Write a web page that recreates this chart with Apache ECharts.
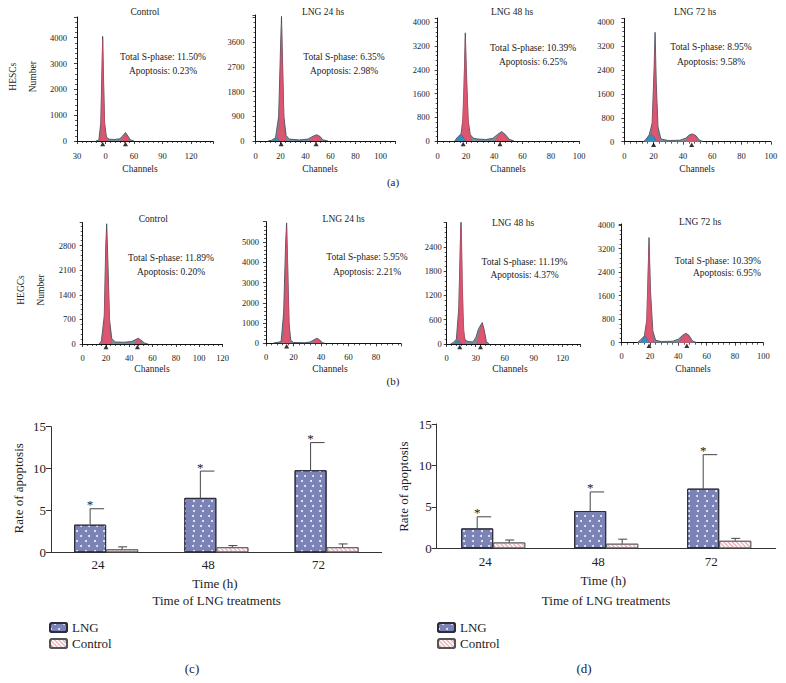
<!DOCTYPE html>
<html><head><meta charset="utf-8">
<script src="https://cdn.jsdelivr.net/npm/echarts@6/dist/echarts.min.js"></script>
<style>html,body{margin:0;padding:0;background:#fff}#c{width:786px;height:683px}</style>
</head><body><div id="c"></div>
<script>
// ---------------- DATA ----------------
// Histogram panels: [channel, count]
const a1Env = [[20,0],[23,40],[25,700],[26.3,2900],[27,4050],[27.8,2600],[29,700],[31,150],[34,70],[40,60],[45,90],[48,190],[51,330],[53.5,190],[56,50],[60,0]];
const a1G1  = [[23.5,0],[25,350],[26.4,2700],[27,3900],[27.8,2300],[29.3,450],[31,80],[33,0]];
const a1G2  = [[46,0],[48.5,140],[51,290],[53,160],[55.5,0]];
const a1Mk  = [[27,0],[51,0]];

const a2Env = [[10,0],[13,30],[16,120],[18.5,900],[20,3400],[20.8,4550],[21.6,3000],[22.7,900],[24.5,200],[27,70],[35,40],[42,70],[45,150],[48.8,230],[51.5,170],[54,40],[58,0]];
const a2G1  = [[17,0],[18.7,500],[20.1,2900],[20.8,4300],[21.6,2600],[23,400],[24.5,0]];
const a2G2  = [[43.4,0],[46,130],[48.8,210],[51,140],[53,0]];
const a2Apo = [[14,0],[16,70],[17.5,110],[19,0]];
const a2Mk  = [[20.5,0],[48.5,0]];

const a3Env = [[12,0],[14,130],[16.5,240],[18,800],[19,2600],[19.5,3650],[20.2,2500],[21.5,700],[23,220],[25,100],[28,70],[34,50],[39,90],[42.5,230],[45.2,320],[47.8,220],[50.5,60],[54,0]];
const a3G1  = [[15.5,0],[17.2,350],[18.6,1900],[19.5,3450],[20.4,1900],[22,400],[24,0]];
const a3G2  = [[40.5,0],[43,190],[45.2,290],[47.5,200],[50.5,0]];
const a3Apo = [[13,0],[15,130],[16.5,225],[18,130],[19.5,0]];
const a3Mk  = [[18,0],[44,0]];

const a4Env = [[13,0],[15,90],[17,230],[19,620],[20.3,2400],[21,3660],[21.8,2000],[23,500],[25,90],[30,40],[38,50],[42,120],[44.5,230],[46.5,260],[49,200],[51,60],[54,0]];
const a4G1  = [[17,0],[19,420],[20.3,2000],[21,3100],[21.8,1500],[23,300],[24.2,0]];
const a4G2  = [[41.4,0],[44,160],[46.4,240],[48.5,180],[50.5,0]];
const a4Apo = [[14.5,0],[16.5,160],[18.7,250],[20.5,150],[22,0]];
const a4Mk  = [[20,0],[46,0]];

const b1Env = [[14,0],[16,80],[18.5,800],[19.8,2800],[20.6,3420],[21.5,2500],[23,700],[25,150],[28,60],[35,50],[42,70],[45,120],[47.7,165],[50,110],[53,30],[56,0]];
const b1G1  = [[16.3,0],[18.5,600],[20,2700],[20.6,3200],[21.5,2100],[23.5,300],[25,0]];
const b1G2  = [[44.5,0],[46.5,120],[47.7,150],[49,110],[51,0]];
const b1Mk  = [[20,0],[47,0]];

const b2Env = [[5,0],[7,40],[9,50],[11,100],[12.8,1500],[14.3,5000],[15,5940],[15.7,4000],[16.8,1000],[18,150],[20,40],[28,30],[32,60],[35,180],[37,250],[39,170],[41,30],[43,0]];
const b2G1  = [[11.9,0],[13.3,1200],[14.5,4800],[15,5700],[15.6,4300],[16.6,1200],[17.6,0]];
const b2G2  = [[34,0],[35.5,150],[37,230],[38.5,150],[40,0]];
const b2Mk  = [[15,0]];

const b3Env = [[4,0],[7,40],[10,120],[12.5,900],[14.8,3150],[16,1500],[17.5,300],[19,100],[22,60],[27,50],[30,150],[33,380],[36.8,530],[39,330],[41,60],[44,0]];
const b3G1  = [[10.5,0],[12.5,700],[14.5,2900],[15.2,2800],[17,600],[19,0]];
const b3G2  = [[31,0],[33.5,280],[36.8,500],[38.5,330],[40.6,0]];
const b3Apo = [[7.5,0],[10,60],[12,80],[14,40],[15.5,0]];
const b3Mk  = [[13.5,0],[35,0]];

const b4Env = [[11,0],[13,80],[16,230],[17.8,800],[19.3,3580],[20.3,1800],[22,400],[24,80],[28,40],[36,50],[40,120],[43,250],[45.4,320],[47.5,250],[50,60],[53,0]];
const b4G1  = [[15.3,0],[17.5,600],[19.3,3300],[20.3,1500],[21.8,300],[23,0]];
const b4G2  = [[40,0],[43,200],[45.4,300],[47.5,200],[49.5,0]];
const b4Apo = [[13.5,0],[15.5,170],[16.5,228],[18,120],[19.5,0]];
const b4Mk  = [[19.3,0],[46,0]];

// Tick labels
const xTicksA1 = ['30','0','60','90','120'];
const xTicks100 = ['0','20','40','60','80','100'];
const xTicks120 = ['0','20','40','60','80','100','120'];
const xTicks80 = ['0','20','40','60','80'];
const xTicks30 = ['0','30','60','90','120'];
const yTicksA1 = ['0','1000','2000','3000','4000'];
const yTicksA2 = ['0','900','1800','2700','3600'];
const yTicks800 = ['0','800','1600','2400','3200','4000'];
const yTicksB1 = ['0','700','1400','2100','2800'];
const yTicksB2 = ['0','1000','2000','3000','4000','5000'];
const yTicksB3 = ['0','600','1200','1800','2400'];

const titles = ['Control','LNG 24 hs','LNG 48 hs','LNG 72 hs','Control','LNG 24 hs','LNG 48 hs','LNG 72 hs'];
const statsS = ['11.50%','6.35%','10.39%','8.95%','11.89%','5.95%','11.19%','10.39%'];
const statsA = ['0.23%','2.98%','6.25%','9.58%','0.20%','2.21%','4.37%','6.95%'];

// Bar charts
const timeCats = ['24','48','72'];
const cLNG = [3.3, 6.5, 9.8];   const cLNGsd = [1.9, 3.2, 3.3];
const cCtrl = [0.35, 0.6, 0.6]; const cCtrlsd = [0.3, 0.2, 0.4];
const dLNG = [2.4, 4.5, 7.2];   const dLNGsd = [1.4, 2.3, 4.1];
const dCtrl = [0.7, 0.55, 0.9]; const dCtrlsd = [0.3, 0.55, 0.3];

// ---------------- LAYOUT / STYLE ----------------
const FONT = '"Liberation Serif","Times New Roman","DejaVu Serif",serif';
const INK = '#222';
const panels = [
  {env:a1Env,g1:a1G1,g2:a1G2,apo:null, mk:a1Mk,xt:xTicksA1,xi:30,xMax:143,yt:yTicksA1,yi:1000,yMax:4800,L:77,T:17,W:136,H:124,ym:10,xm:10,xs:6},
  {env:a2Env,g1:a2G1,g2:a2G2,apo:a2Apo,mk:a2Mk,xt:xTicks100,xi:20,xMax:112,yt:yTicksA2,yi:900,yMax:4600,L:255.5,T:15,W:140,H:126,ym:11,xm:10,xs:5},
  {env:a3Env,g1:a3G1,g2:a3G2,apo:a3Apo,mk:a3Mk,xt:xTicks100,xi:20,xMax:100,yt:yTicks800,yi:800,yMax:4150,L:437.7,T:18,W:141.5,H:123,ym:8,xm:10,xs:5},
  {env:a4Env,g1:a4G1,g2:a4G2,apo:a4Apo,mk:a4Mk,xt:xTicks100,xi:20,xMax:100,yt:yTicks800,yi:800,yMax:4130,L:624.3,T:18.3,W:146.5,H:123.4,ym:10,xm:10,xs:5},
  {env:b1Env,g1:b1G1,g2:b1G2,apo:null, mk:b1Mk,xt:xTicks120,xi:20,xMax:120,yt:yTicksB1,yi:700,yMax:3450,L:82.7,T:222.7,W:139.8,H:121.3,ym:7,xm:9,xs:5},
  {env:b2Env,g1:b2G1,g2:b2G2,apo:null, mk:b2Mk,xt:xTicks80,xi:20,xMax:98,yt:yTicksB2,yi:1000,yMax:6000,L:266,T:221.7,W:134.75,H:121.6,ym:7,xm:9,xs:5},
  {env:b3Env,g1:b3G1,g2:b3G2,apo:b3Apo,mk:b3Mk,xt:xTicks30,xi:30,xMax:138,yt:yTicksB3,yi:600,yMax:3000,L:446.7,T:222.7,W:133.4,H:121.3,ym:5,xm:9,xs:6},
  {env:b4Env,g1:b4G1,g2:b4G2,apo:b4Apo,mk:b4Mk,xt:xTicks100,xi:20,xMax:100,yt:yTicks800,yi:800,yMax:4040,L:621.7,T:224,W:141.6,H:118.7,ym:7,xm:9,xs:5}
];
// text placement
const titlePos = [[145,12.3],[323,12.3],[512,12],[695,12],[153.3,219],[343.7,219],[513,223.3],[700,222.3]];
const statPos = [[163,56.7,71,'center'],[344,56.7,71,'center'],[533,47.7,62.3,'center'],[711,46.7,61.7,'center'],
                 [171,258.3,271.7,'center'],[367,257.3,271.7,'center'],[524.5,261.7,275,'center'],[761,261,273.3,'right']];
const chanPos = [[140,169],[320,169],[508,169],[697,169],[152,369],[330,369],[510,369],[693,369]];

function tickFmt(ticks, step) {
  return function (v) {
    const k = Math.round(v / step);
    return (Math.abs(v - k * step) < 1e-6 && k >= 0 && k < ticks.length) ? ticks[k] : '';
  };
}

const grid = [], xAxis = [], yAxis = [], series = [], graphic = [];
const axisLine = {lineStyle:{color:'#111', width:1}};

panels.forEach((p, i) => {
  grid.push({left:p.L, top:p.T, width:p.W, height:p.H});
  xAxis.push({type:'value', gridIndex:i, min:0, max:p.xMax, interval:p.xi,
    axisLine:axisLine, splitLine:{show:false},
    axisTick:{length:3, lineStyle:{color:'#111', width:0.8}},
    minorTick:{show:true, splitNumber:p.xs, length:2, lineStyle:{color:'#111', width:0.7}},
    axisLabel:{fontFamily:FONT, fontSize:8.5, color:INK, margin:p.xm, formatter:tickFmt(p.xt, p.xi)}});
  yAxis.push({type:'value', gridIndex:i, min:0, max:p.yMax, interval:p.yi,
    axisLine:{show:true, lineStyle:{color:'#111', width:1}}, splitLine:{show:false},
    axisTick:{show:true, length:3, lineStyle:{color:'#111', width:0.8}},
    minorTick:{show:true, splitNumber:5, length:2, lineStyle:{color:'#111', width:0.7}},
    axisLabel:{fontFamily:FONT, fontSize:8.5, color:INK, margin:p.ym, formatter:tickFmt(p.yt, p.yi)}});
  series.push({type:'line', xAxisIndex:i, yAxisIndex:i, data:p.env, symbol:'none', z:1,
    lineStyle:{color:'#38434f', width:0.8}, areaStyle:{color:'#7b8fa3', opacity:1}});
  [p.g1, p.g2].forEach(d => series.push({type:'line', xAxisIndex:i, yAxisIndex:i, data:d, symbol:'none', z:2,
    lineStyle:{color:'#c94660', width:0.5}, areaStyle:{color:'#dc5670', opacity:1}}));
  if (p.apo) series.push({type:'line', xAxisIndex:i, yAxisIndex:i, data:p.apo, symbol:'none', z:3,
    lineStyle:{color:'#2f6f9a', width:0.5}, areaStyle:{color:'#3b8bbd', opacity:1}});
  series.push({type:'scatter', xAxisIndex:i, yAxisIndex:i, data:p.mk, symbol:'triangle', symbolSize:[5,4.5],
    symbolOffset:[0,3], itemStyle:{color:'#000'}, z:6, clip:false, silent:true});

  const txt = (t, x, y, size, align, rot) => graphic.push({type:'text', x:x, y:y, rotation:rot||0, silent:true,
    style:{text:t, fontFamily:FONT, fontSize:size, fill:INK, align:align||'center', verticalAlign:'middle'}});
  txt(titles[i], titlePos[i][0], titlePos[i][1], 9.5);
  txt('Total S-phase: ' + statsS[i], statPos[i][0], statPos[i][1], 9.5, statPos[i][3]);
  txt('Apoptosis: ' + statsA[i], statPos[i][0], statPos[i][2], 9.5, statPos[i][3]);
  txt('Channels', chanPos[i][0], chanPos[i][1], 9.5);
});

function gtext(t, x, y, size, rot) {
  graphic.push({type:'text', x:x, y:y, rotation:rot||0, silent:true,
    style:{text:t, fontFamily:FONT, fontSize:size, fill:INK, align:'center', verticalAlign:'middle'}});
}
gtext('HESCs', 13.3, 76.7, 9.5, Math.PI/2);
gtext('Number', 33.3, 76.7, 9.5, Math.PI/2);
gtext('HEGCs', 21, 290, 9.5, Math.PI/2);
gtext('Number', 40.7, 290, 9.5, Math.PI/2);
gtext('(a)', 393, 182, 11);
gtext('(b)', 393, 381, 11);
gtext('(c)', 192, 668.3, 13);
gtext('(d)', 584, 668.3, 13);
gtext('Rate of apoptosis', 18.3, 488.3, 13, Math.PI/2);
gtext('Rate of apoptosis', 403.3, 486.7, 13, Math.PI/2);
gtext('Time (h)', 215, 583.3, 13);
gtext('Time (h)', 603.3, 580, 13);
gtext('Time of LNG treatments', 216.7, 600.7, 13);
gtext('Time of LNG treatments', 606, 600.7, 13);

// Bar charts
const dotDecal = {symbol:'circle', symbolSize:1, color:'rgba(255,255,255,0.9)',
  dashArrayX:[[1.2,5.3],[0,3.25,1.2,2.05]], dashArrayY:[1.2,2.1], rotation:0};
const hatchDecal = {symbol:'rect', symbolSize:1, color:'#e2a3ad', dashArrayX:[1,0], dashArrayY:[0.7,1.5], rotation:Math.PI/4};
const lngStyle = {color:'#7a82b6', borderColor:'#2c2c3a', borderWidth:1, decal:dotDecal};
const ctlStyle = {color:'#fcf6f7', borderColor:'#555', borderWidth:0.8, decal:hatchDecal};

function errItem(dx, capL, capR, star) {
  return function (params, api) {
    const ci = api.value(0), m = api.value(1), sd = api.value(2);
    const b = api.coord([ci, m]);
    const t = api.coord([ci, m + sd]);
    const x = b[0] + dx;
    const ch = [
      {type:'line', shape:{x1:x, y1:b[1], x2:x, y2:t[1]}, style:{stroke:'#444', lineWidth:1}},
      {type:'line', shape:{x1:x + capL, y1:t[1], x2:x + capR, y2:t[1]}, style:{stroke:'#444', lineWidth:1}}
    ];
    if (star) ch.push({type:'text', x:x, y:t[1] - 4,
      style:{text:'*', fontFamily:FONT, fontSize:13, fill:INK, align:'center', verticalAlign:'middle'}});
    return {type:'group', children:ch};
  };
}

const barCharts = [
  {lng:cLNG, lsd:cLNGsd, ctl:cCtrl, csd:cCtrlsd, L:51, T:426.7, W:330.7, H:125.6, xm:6, legL:49},
  {lng:dLNG, lsd:dLNGsd, ctl:dCtrl, csd:dCtrlsd, L:436.7, T:424, W:339, H:124.3, xm:7, legL:437}
];
const legend = [];
barCharts.forEach((c, k) => {
  const gi = panels.length + k;
  grid.push({left:c.L, top:c.T, width:c.W, height:c.H});
  xAxis.push({type:'category', gridIndex:gi, data:timeCats,
    axisLine:{lineStyle:{color:'#333', width:1}},
    axisTick:{inside:true, length:5, lineStyle:{color:'#333'}},
    axisLabel:{fontFamily:FONT, fontSize:13, color:INK, margin:c.xm, padding:[0,16,0,0]}});
  yAxis.push({type:'value', gridIndex:gi, min:0, max:15, interval:5,
    axisLine:{show:true, lineStyle:{color:'#333', width:1}}, splitLine:{show:false},
    axisTick:{show:true, length:5, lineStyle:{color:'#333'}},
    axisLabel:{fontFamily:FONT, fontSize:13, color:INK, margin:5}});
  series.push({type:'bar', name:'LNG', xAxisIndex:gi, yAxisIndex:gi, data:c.lng, barWidth:32, barGap:'0%', itemStyle:lngStyle, z:2});
  series.push({type:'bar', name:'Control', xAxisIndex:gi, yAxisIndex:gi, data:c.ctl, barWidth:32, barGap:'0%', itemStyle:ctlStyle, z:2});
  series.push({type:'custom', xAxisIndex:gi, yAxisIndex:gi, z:5, silent:true,
    data:c.lng.map((m, j) => [j, m, c.lsd[j]]), renderItem:errItem(-16, 0, 14, true)});
  series.push({type:'custom', xAxisIndex:gi, yAxisIndex:gi, z:5, silent:true,
    data:c.ctl.map((m, j) => [j, m, c.csd[j]]), renderItem:errItem(16, -4, 5, false)});
  legend.push({left:c.legL, top:621, padding:0, orient:'vertical', itemWidth:17, itemHeight:9, itemGap:3, selectedMode:false,
    textStyle:{fontFamily:FONT, fontSize:13, color:INK}, data:['LNG','Control']});
});

const chart = echarts.init(document.getElementById('c'), null, {renderer:'svg'});
chart.setOption({animation:false, backgroundColor:'#fff', grid, xAxis, yAxis, series, legend, graphic});
</script></body></html>
